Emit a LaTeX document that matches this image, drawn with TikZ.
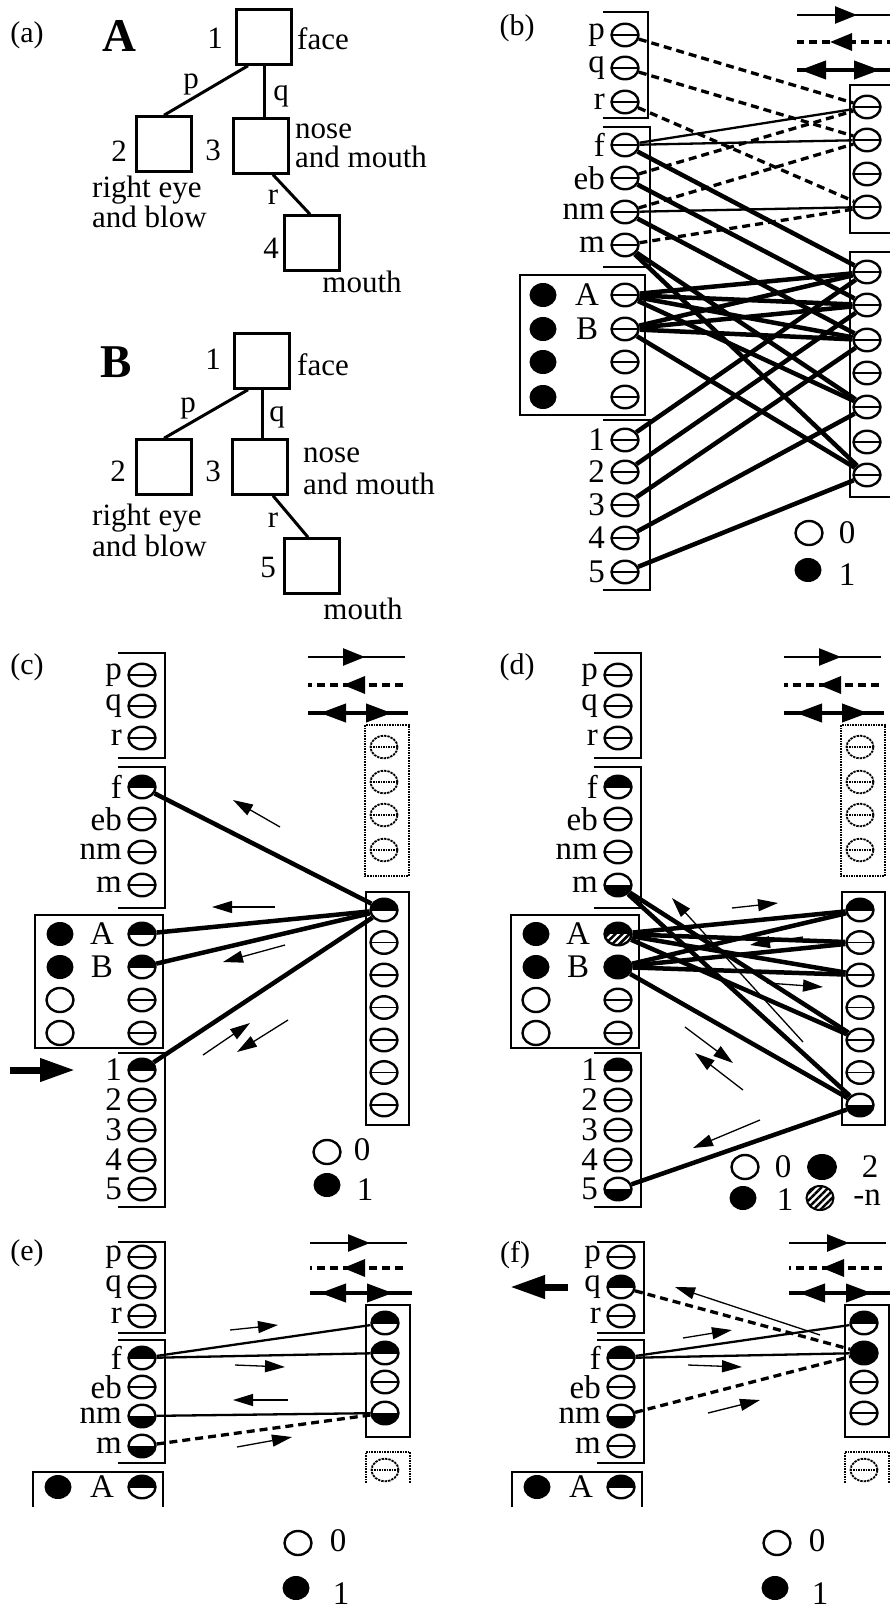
\documentclass[tikz,border=0pt]{standalone}
\usepackage{fontspec}
\setmainfont{Liberation Serif}
\usetikzlibrary{shapes.geometric,arrows.meta,decorations.markings,patterns.meta}

\tikzset{
  lbl/.style={font=\fontsize{33}{35}\selectfont, inner sep=0pt},
  txt/.style={font=\fontsize{31}{33}\selectfont, inner sep=0pt},
  tag/.style={font=\fontsize{30}{32}\selectfont, inner sep=0pt},
  big/.style={font=\fontsize{47}{50}\selectfont\bfseries, inner sep=0pt},
  box/.style={draw, line width=2.5pt, minimum size=55pt, inner sep=0pt},
  branch/.style={line width=3pt},
  rim/.style={line width=2.3pt},
  ghostrim/.style={line width=1.6pt, densely dotted},
  unit/.style={ellipse, draw, line width=2.4pt, minimum width=27pt, minimum height=22.5pt, inner sep=0pt,
    path picture={\draw[line width=1.8pt] (path picture bounding box.west) -- (path picture bounding box.east);}},
  idle/.style={},
  uphalf/.style={path picture={
    \fill (path picture bounding box.north west) rectangle (path picture bounding box.east);
    \draw[line width=1.8pt] (path picture bounding box.west) -- (path picture bounding box.east);}},
  lowhalf/.style={path picture={
    \fill (path picture bounding box.west) rectangle (path picture bounding box.south east);}},
  allon/.style={fill},
  hatchon/.style={path picture={
    \fill (path picture bounding box.north west) rectangle (path picture bounding box.east);
    \fill[pattern={Lines[angle=45,distance=5pt,line width=2.5pt]}] (path picture bounding box.west) rectangle (path picture bounding box.south east);}},
  ghost/.style={unit, densely dotted, line width=1.8pt,
    path picture={\draw[densely dotted, line width=1.5pt] (path picture bounding box.west) -- (path picture bounding box.east);}},
  lamp/.style={ellipse, inner sep=0pt, minimum width=27pt, minimum height=24pt},
  lampoff/.style={lamp, draw, line width=2.4pt},
  lampon/.style={lamp, fill},
  strong/.style={line width=4.5pt},
  weak/.style={line width=2.3pt},
  inh/.style={line width=3.3pt, dash pattern=on 8pt off 5pt},
  flow/.style={line width=1.3pt, -{Triangle[length=20pt,width=12pt]}},
  bigflow/.style={line width=7pt, -{Triangle[length=35pt,width=22pt]}},
  tipfwd/.style={postaction={decorate}, decoration={markings,
    mark=at position #1 with {\arrow{Triangle[length=22pt,width=17pt]}}}},
  bothtips/.style 2 args={postaction={decorate}, decoration={markings,
    mark=at position #1 with {\arrowreversed{Triangle[length=26pt,width=18pt]}},
    mark=at position #2 with {\arrow{Triangle[length=26pt,width=18pt]}}}}
}

\begin{document}
\begin{tikzpicture}[x=1pt, y=-1pt]
\useasboundingbox (0,0) rectangle (890,1613);
\clip (0,0) rectangle (890,1613);

% (a) the two trees
\node[tag] (taga) at (27,35) {(a)};
\node[big] (nameA) at (119,36) {A};
\node[box] (tA1) at (264,37) {};
\node[box] (tA2) at (164,144) {};
\node[box] (tA3) at (261,146) {};
\node[box] (tA4) at (312,243) {};
\node[txt] (nA1) at (215,38) {1};
\node[txt] (nA2) at (119,151) {2};
\node[txt] (nA3) at (213,150) {3};
\node[txt] (nA4) at (271,248) {4};
\node[txt, anchor=west] (fA1) at (297,39) {face};
\node[txt, anchor=west] (fA3a) at (295,131) {nose};
\node[txt, anchor=west] (fA3b) at (295,157) {and mouth};
\node[txt, anchor=west] (fA2a) at (92,190) {right eye};
\node[txt, anchor=west] (fA2b) at (92,217) {and blow};
\node[txt] (fA4) at (362,282) {mouth};
\draw[branch] ([xshift=-16pt]tA1.south) -- (tA2.north);
\draw[branch] (tA1.south) -- (tA1.south |- tA3.north);
\draw[branch] ([xshift=12pt]tA3.south) -- ([xshift=-2pt]tA4.north);
\node[txt] (eAp) at (191,84) {p};
\node[txt] (eAq) at (281,96) {q};
\node[txt] (eAr) at (273,197) {r};

\node[big] (nameB) at (116,362) {B};
\node[box] (tB1) at (262,361) {};
\node[box] (tB2) at (164,467) {};
\node[box] (tB3) at (260,467) {};
\node[box] (tB5) at (312,566) {};
\node[txt] (nB1) at (213,359) {1};
\node[txt] (nB2) at (118,471) {2};
\node[txt] (nB3) at (213,471) {3};
\node[txt] (nB5) at (268,567) {5};
\node[txt, anchor=west] (fB1) at (297,365) {face};
\node[txt, anchor=west] (fB3a) at (303,455) {nose};
\node[txt, anchor=west] (fB3b) at (303,484) {and mouth};
\node[txt, anchor=west] (fB2a) at (92,518) {right eye};
\node[txt, anchor=west] (fB2b) at (92,546) {and blow};
\node[txt] (fB5) at (363,609) {mouth};
\draw[branch] ([xshift=-14pt]tB1.south) -- (tB2.north);
\draw[branch] (tB1.south) -- (tB1.south |- tB3.north);
\draw[branch] ([xshift=13pt]tB3.south) -- ([xshift=-4pt]tB5.north);
\node[txt] (eBp) at (188,408) {p};
\node[txt] (eBq) at (277,417) {q};
\node[txt] (eBr) at (273,520) {r};

% (b) the full network
\node[tag] (tagb) at (517,28) {(b)};
\draw[rim] (603,12) -| (648,118) -- (603,118);
\draw[rim] (603,127) -| (650,267) -- (603,267);
\draw[rim] (520,275) rectangle (645,415);
\draw[rim] (603,420) -| (650,590) -- (603,590);
\draw[rim] (900,85) -| (850,233) -- (900,233);
\draw[rim] (900,252) -| (850,497) -- (900,497);
\foreach \n/\y in {p/35, q/68, r/102, f/145, eb/178, nm/212, m/245, 1/440, 2/472, 3/505, 4/538, 5/572} {
  \node[unit] (b\n) at (625,\y) {};
  \node[lbl, anchor=east] (bt\n) at (605,\y) {\n};
}
\foreach \n/\y in {A/295, B/329, x3/362, x4/397} {
  \node[unit] (b\n) at (625,\y) {};
  \node[lampon] (bd\n) at (543,\y) {};
}
\node[lbl] (btA) at (587,295) {A};
\node[lbl] (btB) at (587,329) {B};
\foreach \k/\y in {1/107, 2/140, 3/174, 4/207}
  \node[unit] (bU\k) at (867,\y) {};
\foreach \k/\y in {1/272, 2/305, 3/340, 4/373, 5/407, 6/442, 7/475}
  \node[unit] (bL\k) at (867,\y) {};
\draw[line width=2.5pt, tipfwd=60pt] (797,15) -- (895,15);
\draw[inh, tipfwd=65pt] (895,42) -- (797,42);
\draw[line width=4pt, bothtips={3pt}{83pt}] (797,70) -- (895,70);
\node[lampoff] (bo) at (809,533) {};
\node[lbl] (bot) at (847,533) {0};
\node[lampon] (bi) at (808,570) {};
\node[lbl] (bit) at (847,575) {1};
\foreach \s/\t in {p/U1, q/U2, r/U4, eb/U1, nm/U2, m/U4}
  \draw[inh] (b\s) -- (b\t);
\foreach \s/\t in {f/U1, f/U2, nm/U4}
  \draw[weak] (b\s) -- (b\t);
\foreach \s/\t in {f/L1, eb/L2, nm/L3, m/L5, m/L7, A/L1, A/L2, A/L3, A/L5,
                   B/L1, B/L2, B/L3, B/L7, 1/L1, 2/L2, 3/L3, 4/L5, 5/L7}
  \draw[strong] (b\s) -- (b\t);

% (c) and (d) frames, labels and legends
\foreach \pn/\dx in {c/0, d/476} {
  \begin{scope}[shift={(\dx,0)}]
    \draw[rim] (118,653) -| (165,758) -- (118,758);
    \draw[rim] (118,767) -| (165,908) -- (118,908);
    \draw[rim] (35,915) rectangle (163,1048);
    \draw[rim] (118,1053) -| (165,1207) -- (118,1207);
    \draw[ghostrim] (365,725) rectangle (409,876);
    \draw[rim] (366,892) rectangle (409,1125);
    \foreach \n/\y in {p/675, q/706, r/738, f/787, eb/819, nm/852, m/885, 1/1070, 2/1100, 3/1130, 4/1160, 5/1189}
      \node[lbl, anchor=east] (\pn t\n) at (122,\y) {\n};
    \node[lbl] (\pn tA) at (102,934) {A};
    \node[lbl] (\pn tB) at (102,967) {B};
    \foreach \n/\y/\s in {A/934/lampon, B/967/lampon, x3/1000/lampoff, x4/1033/lampoff}
      \node[\s] (\pn d\n) at (60,\y) {};
    \foreach \k/\y in {1/747, 2/782, 3/815, 4/850}
      \node[ghost] (\pn U\k) at (384,\y) {};
    \draw[line width=2.5pt, tipfwd=57pt] (308,657) -- (405,657);
    \draw[inh, tipfwd=60pt] (403,685) -- (308,685);
    \draw[line width=4pt, bothtips={12pt}{84pt}] (308,713) -- (408,713);
  \end{scope}
}

% (c)
\node[tag] (tagc) at (27,667) {(c)};
\foreach \n/\y/\s in {p/675/idle, q/706/idle, r/738/idle, f/787/uphalf, eb/819/idle, nm/852/idle, m/885/idle,
                      A/934/uphalf, B/967/uphalf, x3/1000/idle, x4/1033/idle,
                      1/1070/uphalf, 2/1100/idle, 3/1130/idle, 4/1160/idle, 5/1189/idle}
  \node[unit,\s] (c\n) at (142,\y) {};
\foreach \k/\s in {1/uphalf, 2/idle, 3/idle, 4/idle, 5/idle, 6/idle, 7/idle}
  \node[unit,\s] (cL\k) at (384,{910+32.5*(\k-1)}) {};
\foreach \t in {f, A, B, 1}
  \draw[strong] (cL1) -- (c\t);
\draw[flow] (280,827) -- (233,800);
\draw[flow] (275,907) -- (212,907);
\draw[flow] (285,945) -- (223,962);
\draw[flow] (203,1055) -- (250,1023);
\draw[flow] (288,1020) -- (237,1052);
\draw[bigflow] (10,1070) -- (75,1070);
\node[lampoff] (co) at (327,1152) {};
\node[lbl] (cot) at (362,1150) {0};
\node[lampon] (ci) at (327,1185) {};
\node[lbl] (cit) at (365,1190) {1};

% (d)
\node[tag] (tagd) at (517,667) {(d)};
\foreach \n/\y/\s in {p/675/idle, q/706/idle, r/738/idle, f/787/uphalf, eb/819/idle, nm/852/idle, m/885/lowhalf,
                      A/934/hatchon, B/967/allon, x3/1000/idle, x4/1033/idle,
                      1/1070/uphalf, 2/1100/idle, 3/1130/idle, 4/1160/idle, 5/1189/lowhalf}
  \node[unit,\s] (d\n) at (618,\y) {};
\foreach \k/\s in {1/uphalf, 2/idle, 3/idle, 4/idle, 5/idle, 6/idle, 7/lowhalf}
  \node[unit,\s] (dL\k) at (860,{910+32.5*(\k-1)}) {};
\foreach \s/\t in {A/L1, A/L2, A/L3, A/L5, B/L1, B/L2, B/L3, B/L7, m/L5, m/L7, 5/L7}
  \draw[strong] (d\s) -- (d\t);
\draw[flow] (732,908) -- (778,903);
\draw[flow] (803,1042) -- (672,898);
\draw[flow] (803,937) -- (750,945);
\draw[flow] (767,983) -- (823,987);
\draw[flow] (685,1027) -- (733,1063);
\draw[flow] (743,1090) -- (695,1053);
\draw[flow] (760,1120) -- (693,1148);
\node[lampoff] (do) at (745,1167) {};
\node[lbl] (dot) at (783,1167) {0};
\node[lampon, minimum width=30pt, minimum height=26pt] (dii) at (822,1167) {};
\node[lbl] (diit) at (870,1167) {2};
\node[lampon] (di) at (743,1198) {};
\node[lbl] (dit) at (785,1200) {1};
\node[lamp, draw, line width=2pt, pattern={Lines[angle=45,distance=5pt,line width=2.5pt]}] (dn) at (820,1198) {};
\node[lbl] (dnt) at (867,1198) {-n};

% (e) and (f) frames, labels and legends
\foreach \pn/\dx in {e/0, f/479} {
  \begin{scope}[shift={(\dx,0)}]
    \draw[rim] (118,1242) -| (165,1333) -- (118,1333);
    \draw[rim] (118,1340) -| (165,1463) -- (118,1463);
    \draw[rim] (33,1507) |- (163,1472) -- (163,1507);
    \draw[rim] (366,1305) rectangle (410,1437);
    \draw[ghostrim] (366,1483) |- (410,1452) -- (410,1483);
    \foreach \n/\y in {p/1257, q/1287, r/1316, f/1358, eb/1387, nm/1416, m/1446}
      \node[lbl, anchor=east] (\pn t\n) at (122,\y) {\n};
    \node[lbl] (\pn tA) at (102,1487) {A};
    \node[lampon] (\pn dA) at (58,1487) {};
    \node[ghost] (\pn G) at (385,1470) {};
    \draw[line width=2.5pt, tipfwd=60pt] (310,1243) -- (407,1243);
    \draw[inh, tipfwd=60pt] (403,1268) -- (310,1268);
    \draw[line width=4pt, bothtips={10pt}{83pt}] (310,1293) -- (412,1293);
    \node[lampoff] (\pn o) at (298,1543) {};
    \node[lbl] (\pn ot) at (338,1541) {0};
    \node[lampon] (\pn i) at (296,1588) {};
    \node[lbl] (\pn it) at (341,1594) {1};
  \end{scope}
}

% (e)
\node[tag] (tage) at (27,1253) {(e)};
\foreach \n/\y/\s in {p/1257/idle, q/1287/idle, r/1316/idle, f/1358/uphalf, eb/1387/idle, nm/1416/lowhalf, m/1446/lowhalf, A/1487/uphalf}
  \node[unit,\s] (e\n) at (142,\y) {};
\foreach \k/\y/\s in {1/1323/uphalf, 2/1353/uphalf, 3/1382/idle, 4/1413/lowhalf}
  \node[unit,\s] (eU\k) at (385,\y) {};
\draw[weak] (ef) -- (eU1);
\draw[weak] (ef) -- (eU2);
\draw[weak] (enm) -- (eU4);
\draw[inh] (em) -- (eU4);
\draw[flow] (230,1330) -- (278,1325);
\draw[flow] (235,1365) -- (285,1367);
\draw[flow] (288,1400) -- (233,1400);
\draw[flow] (237,1447) -- (292,1437);

% (f)
\node[tag] (tagf) at (515,1255) {(f)};
\foreach \n/\y/\s in {p/1257/idle, q/1287/uphalf, r/1316/idle, f/1358/uphalf, eb/1387/idle, nm/1416/lowhalf, m/1446/idle, A/1487/uphalf}
  \node[unit,\s] (f\n) at (621,\y) {};
\foreach \k/\y/\s in {1/1323/uphalf, 2/1353/allon, 3/1382/idle, 4/1413/idle}
  \node[unit,\s] (fU\k) at (864,\y) {};
\draw[weak] (ff) -- (fU1);
\draw[weak] (ff) -- (fU2);
\draw[inh] (fq) -- (fU2);
\draw[inh] (fnm) -- (fU2);
\draw[flow] (820,1335) -- (675,1287);
\draw[flow] (683,1338) -- (732,1330);
\draw[flow] (688,1365) -- (742,1367);
\draw[flow] (708,1413) -- (760,1400);
\draw[bigflow] (568,1287) -- (510,1287);
\end{tikzpicture}
\end{document}
